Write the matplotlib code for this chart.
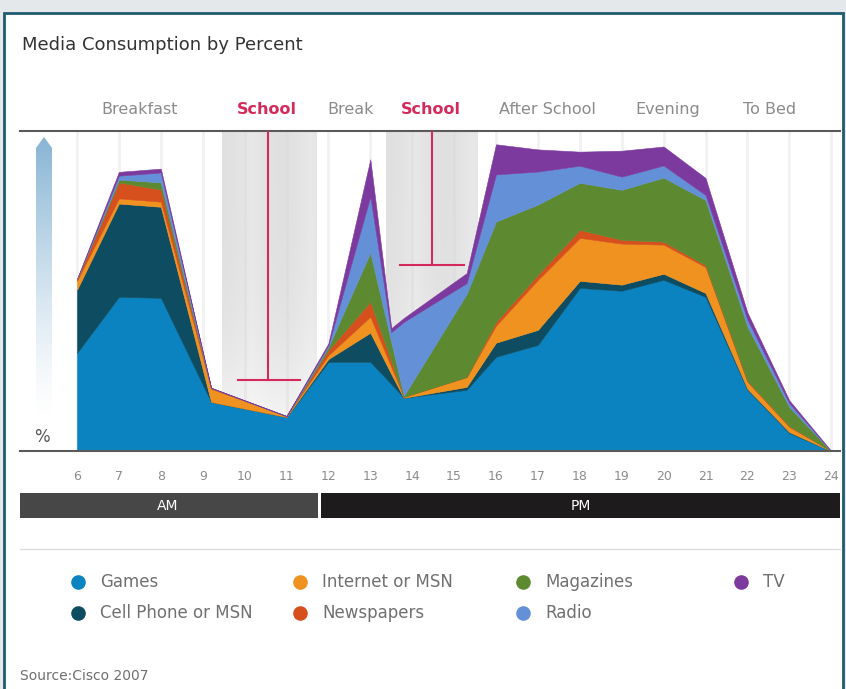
import matplotlib.pyplot as plt
import numpy as np
from matplotlib.patches import Rectangle, Polygon

# hour positions of the area vertices (some fall between whole hours)
hours = [6, 7, 8, 9.2, 11, 12, 13, 13.5, 13.8, 15.3, 16, 17, 18, 19, 20, 21, 22, 23, 24]

# layer thickness in percent, bottom to top
games = [30.6, 48.1, 47.8, 15.3, 10.6, 27.8, 27.8, 20.9, 16.6, 19.1, 29.4, 33.1, 50.9, 50.0, 53.4, 48.1, 19.1, 5.6, 0]
cell_phone = [19.7, 29.1, 28.4, 0, 0, 0.9, 9.1, 3.1, 0, 0.9, 4.4, 4.7, 2.2, 1.9, 1.9, 1.2, 0.3, 0.3, 0]
internet = [2.8, 1.6, 1.6, 4.1, 0.3, 1.2, 5.0, 2.2, 0.3, 3.1, 5.3, 15.6, 13.4, 12.8, 9.1, 8.1, 2.2, 1.6, 0]
newspapers = [0.6, 5.0, 3.8, 0.3, 0, 1.6, 4.7, 1.9, 0, 0, 1.2, 1.6, 2.5, 1.2, 0.9, 0.6, 0.3, 0.3, 0]
magazines = [0, 0.9, 2.2, 0, 0, 0.9, 15.3, 5.9, 0.3, 25.9, 31.3, 21.9, 14.7, 15.6, 20.0, 20.3, 16.9, 5.9, 0]
radio = [0, 1.2, 3.1, 0, 0, 0.6, 17.5, 3.1, 23.1, 3.4, 14.7, 10.3, 5.3, 4.1, 3.8, 1.6, 2.2, 1.2, 0]
tv = [0, 1.2, 1.2, 0, 0, 0.6, 11.6, 1.2, 1.2, 3.1, 9.4, 6.9, 4.4, 8.1, 5.9, 5.3, 2.2, 0.9, 0]

series_names = ["Games", "Cell Phone or MSN", "Internet or MSN", "Newspapers",
                "Magazines", "Radio", "TV"]
series_colors = ["#0a83c0", "#0d4c61", "#f0921f", "#d6501d", "#5d8a30", "#6490d8", "#7c3a9e"]

tick_hours = list(range(6, 25))
periods = ["Breakfast", "School", "Break", "School", "After School", "Evening", "To Bed"]
period_px = [140, 267, 351, 431, 547, 668, 770]

plt.rcParams['font.family'] = ['DejaVu Sans']

W, H = 846, 689
fig = plt.figure(figsize=(W / 100, H / 100), dpi=100)
fig.patch.set_facecolor("#e4e8eb")


def hx(px):
    # pixel column -> hour
    return 6 + (px - 77) / 41.9


# background layer in pixel coordinates
bg = fig.add_axes([0, 0, 1, 1])
bg.set_xlim(0, W)
bg.set_ylim(H, 0)
bg.axis("off")
bg.add_patch(Rectangle((4, 13), 839, 700, facecolor="white", edgecolor="#1e5b6e", lw=2, zorder=0))
bg.text(22, 45, "Media Consumption by Percent", fontsize=13, color="#333333", va="center")

# gradient arrow on the left
grad = np.zeros((120, 1, 4))
grad[..., 0], grad[..., 1], grad[..., 2] = 0.42, 0.64, 0.79
grad[:, 0, 3] = np.linspace(0.85, 0.0, 120) ** 1.3
arrow = Polygon([(36, 420), (36, 148), (44, 137), (52, 148), (52, 420)], closed=True,
                facecolor="none", edgecolor="none", transform=bg.transData)
bg.add_patch(arrow)
im = bg.imshow(grad, extent=[36, 52, 420, 137], aspect="auto", interpolation="bilinear", zorder=2)
im.set_clip_path(arrow)
bg.text(42, 437, "%", fontsize=12, color="#555555", ha="center", va="center")

bg.plot([20, 840], [549, 549], color="#dddddd", lw=1)

# legend
leg_cols = [78, 300, 523, 741, 78, 300, 523]
leg_rows = [582, 582, 582, 582, 613, 613, 613]
order = [0, 2, 4, 6, 1, 3, 5]
for pos, idx in enumerate(order):
    bg.scatter(leg_cols[pos], leg_rows[pos], s=90, color=series_colors[idx], zorder=3)
    bg.text(leg_cols[pos] + 22, leg_rows[pos], series_names[idx], fontsize=12,
            color="#707070", va="center")

bg.text(20, 676, "Source:Cisco 2007", fontsize=10, color="#707070", va="center")
bg.set_xlim(0, W)
bg.set_ylim(H, 0)

# main chart
ax = fig.add_axes([20 / W, 1 - 451 / H, 820 / W, (451 - 130.5) / H])
ax.patch.set_alpha(0)
x0, x1 = hx(20), hx(840)

ax.vlines(tick_hours, 0, 100, color="#f1f1f1", lw=2, zorder=0.3)


def school_shade(a, b):
    nx, ny = 80, 100
    xs = np.linspace(0, 1, nx)
    ys = np.linspace(0, 1, ny)
    horiz = 0.75 + 0.25 * np.abs(np.cos(np.pi * xs * 1.6))
    vert = 1 - ys ** 4
    img = np.zeros((ny, nx, 4))
    img[..., :3] = 0.84
    img[..., 3] = 0.75 * horiz[None, :] * vert[:, None]
    ax.imshow(img, extent=[a, b, 0, 100], aspect="auto", origin="upper",
              interpolation="bilinear", zorder=0.5)


school_shade(hx(222), hx(316))
school_shade(hx(386), hx(478))

layers = [games, cell_phone, internet, newspapers, magazines, radio, tv]
base = np.zeros(len(hours))
for vals, col in zip(layers, series_colors):
    top = base + np.array(vals)
    ax.fill_between(hours, base, top, facecolor=col, edgecolor=col, lw=0.4, zorder=2)
    base = top

# school markers
red = "#d42a5b"
ax.plot([hx(268), hx(268)], [100, 22.2], color=red, lw=1.5, zorder=3)
ax.plot([hx(238), hx(300)], [22.2, 22.2], color=red, lw=1.5, zorder=3)
ax.plot([hx(432), hx(432)], [100, 58.1], color=red, lw=1.5, zorder=3)
ax.plot([hx(400), hx(464)], [58.1, 58.1], color=red, lw=1.5, zorder=3)

for label, px in zip(periods, period_px):
    is_school = label == "School"
    ax.text(hx(px), 106.7, label, ha="center", va="center", fontsize=11.5,
            color=red if is_school else "#8b8b8b",
            fontweight="bold" if is_school else "normal", clip_on=False)

ax.set_xlim(x0, x1)
ax.set_ylim(0, 100)
ax.set_xticks(tick_hours)
ax.set_xticklabels([str(h) for h in tick_hours])
ax.tick_params(axis="x", length=0, pad=14, labelsize=9, labelcolor="#8c8c8c")
ax.set_yticks([])
for side in ["left", "right"]:
    ax.spines[side].set_visible(False)
for side in ["top", "bottom"]:
    ax.spines[side].set_color("#5a5a5a")
    ax.spines[side].set_linewidth(1.5)

# AM / PM strip
bar = fig.add_axes([20 / W, 1 - 518 / H, 820 / W, 25 / H])
bar.set_xlim(x0, x1)
bar.set_ylim(0, 1)
bar.axis("off")
bar.add_patch(Rectangle((x0, 0), hx(318) - x0, 1, facecolor="#474747", edgecolor="none"))
bar.add_patch(Rectangle((hx(321), 0), x1 - hx(321), 1, facecolor="#1d1b1b", edgecolor="none"))
bar.text(hx(168), 0.5, "AM", color="white", ha="center", va="center", fontsize=10)
bar.text(hx(581), 0.5, "PM", color="white", ha="center", va="center", fontsize=10)

fig.savefig("out.png", dpi=100, facecolor=fig.get_facecolor())
